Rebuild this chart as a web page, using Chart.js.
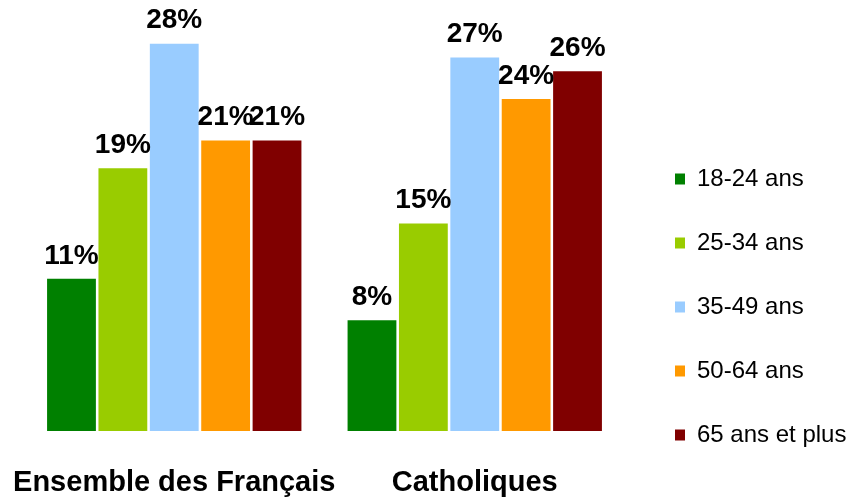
<!DOCTYPE html>
<html>
<head>
<meta charset="utf-8">
<script src="https://cdn.jsdelivr.net/npm/chart.js@4"></script>
<style>
html,body{margin:0;padding:0;background:#fff;}
#wrap{width:861px;height:500px;}
</style>
</head>
<body>
<div id="wrap"><canvas id="c" width="861" height="500"></canvas></div>
<script>
const categories = ["Ensemble des Français", "Catholiques"];
const seriesNames = ["18-24 ans", "25-34 ans", "35-49 ans", "50-64 ans", "65 ans et plus"];
const s18_24 = [11, 8];
const s25_34 = [19, 15];
const s35_49 = [28, 27];
const s50_64 = [21, 24];
const s65plus = [21, 26];
const colors = ["#008000", "#99CC00", "#99CCFF", "#FF9900", "#800000"];

const allSeries = [s18_24, s25_34, s35_49, s50_64, s65plus];

const labelPlugin = {
  id: 'barLabels',
  afterDatasetsDraw(chart) {
    const ctx = chart.ctx;
    ctx.save();
    ctx.font = 'bold 28px "Liberation Sans", Arial, sans-serif';
    ctx.fillStyle = '#000';
    ctx.textAlign = 'center';
    ctx.textBaseline = 'bottom';
    chart.data.datasets.forEach((ds, i) => {
      const meta = chart.getDatasetMeta(i);
      meta.data.forEach((bar, j) => {
        ctx.fillText(ds.data[j] + '%', bar.x, bar.y - 9);
      });
    });
    ctx.restore();
  }
};

const legendFitPlugin = {
  id: 'legendFit',
  beforeLayout(chart) {
    const lg = chart.legend;
    if (lg && !lg._wfix) {
      const orig = lg.fit;
      lg.fit = function () { orig.call(this); this.width = 236; };
      lg._wfix = true;
    }
  },
  afterLayout(chart) {
    const lg = chart.legend;
    if (lg) { lg.left += 10; lg.right += 10; lg.top -= 13; lg.bottom -= 13; }
  }
};

new Chart(document.getElementById('c'), {
  type: 'bar',
  data: {
    labels: categories,
    datasets: seriesNames.map((n, i) => ({
      label: n,
      data: allSeries[i],
      backgroundColor: colors[i],
      borderWidth: 0,
      categoryPercentage: 0.855,
      barPercentage: 0.95
    }))
  },
  options: {
    responsive: false,
    animation: false,
    devicePixelRatio: 1,
    layout: { padding: { left: 24, top: 16, right: 0, bottom: 0 } },
    plugins: {
      tooltip: { enabled: false },
      legend: {
        position: 'right',
        align: 'end',
        labels: {
          boxWidth: 10,
          boxHeight: 11,
          padding: 40,
          color: '#000',
          font: { family: '"Liberation Sans", Arial, sans-serif', size: 24 }
        }
      }
    },
    scales: {
      x: {
        grid: { display: false, drawTicks: false },
        border: { display: false },
        afterFit(scale) {
          scale.height = 69;
          scale.paddingLeft = 0;
          scale.paddingRight = 0;
        },
        ticks: {
          color: '#000',
          padding: 35,
          maxRotation: 0,
          minRotation: 0,
          autoSkip: false,
          font: { family: '"Liberation Sans", Arial, sans-serif', size: 29, weight: 'bold' }
        }
      },
      y: {
        display: false,
        min: 0,
        max: 30
      }
    }
  },
  plugins: [labelPlugin, legendFitPlugin]
});
</script>
</body>
</html>
